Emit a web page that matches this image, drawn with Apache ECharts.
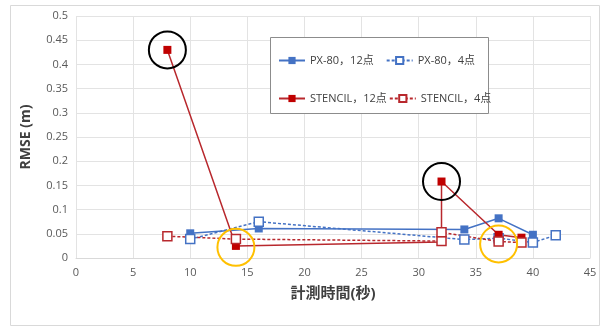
<!DOCTYPE html>
<html>
<head>
<meta charset="utf-8">
<script src="https://cdn.jsdelivr.net/npm/echarts@6/dist/echarts.min.js"></script>
<style>
  html, body { margin: 0; padding: 0; background: #fff; }
  #chart { width: 609px; height: 329px; }
</style>
</head>
<body>
<div id="chart"></div>
<script>
// 数据
let xTicks = [0, 5, 10, 15, 20, 25, 30, 35, 40, 45]
let seriesNames = ['PX-80，12点', 'PX-80，4点', 'STENCIL，12点', 'STENCIL，4点']
let px80_12 = [[10, 0.051], [16, 0.061], [34, 0.059], [37, 0.082], [40, 0.048]]
let px80_4 = [[10, 0.039], [16, 0.075], [34, 0.038], [37, 0.041], [40, 0.032], [42, 0.047]]
let stencil_12 = [[8, 0.43], [14, 0.025], [32, 0.033], [32, 0.158], [37, 0.048], [39, 0.042]]
let stencil_4 = [[8, 0.045], [14, 0.039], [32, 0.035], [32, 0.053], [37, 0.034], [39, 0.032]]
// 注记圆圈
let blackMarks = [[8, 0.43], [32, 0.158]]
let orangeMarks = [[14, 0.022], [37, 0.029]]

let blue = '#4472C4'
let red = '#C00000'
let font = '"Open Sans", "Noto Sans CJK JP", sans-serif'

function ring(list, color) {
    return list.map(function (c) {
        return {
            coord: c,
            symbol: 'circle',
            symbolSize: 37,
            itemStyle: { color: 'rgba(0,0,0,0)', borderColor: color, borderWidth: 2 },
            label: { show: false }
        }
    })
}

let myChart = echarts.init(document.getElementById('chart'))
let option = {
    animation: false,
    textStyle: { fontFamily: font },
    grid: { left: 76, right: 19, top: 16, bottom: 71 },
    graphic: [
        { type: 'rect', shape: { x: 10.5, y: 5.5, width: 589, height: 320 }, style: { fill: 'none', stroke: '#D9D9D9', lineWidth: 1 }, silent: true },
        { type: 'rect', shape: { x: 270.5, y: 37.5, width: 218, height: 76 }, style: { fill: '#fff', stroke: '#8C8C8C', lineWidth: 1 }, silent: true, z: 5 }
    ],
    legend: [
        {
            data: seriesNames.slice(0, 2), left: 273, top: 50, itemWidth: 26, itemHeight: 9, itemGap: 12,
            textStyle: { fontSize: 11, color: '#404040', fontFamily: font }, z: 10
        },
        {
            data: seriesNames.slice(2, 4), left: 273, top: 88, itemWidth: 26, itemHeight: 9, itemGap: 2,
            textStyle: { fontSize: 11, color: '#404040', fontFamily: font }, z: 10
        }
    ],
    xAxis: {
        type: 'value', min: xTicks[0], max: xTicks[xTicks.length - 1], interval: 5,
        name: '計測時間(秒)', nameLocation: 'middle', nameGap: 28,
        nameTextStyle: { fontSize: 15, fontWeight: 'bold', color: '#404040', fontFamily: font },
        axisLine: { lineStyle: { color: '#D9D9D9' } },
        axisTick: { show: false },
        axisLabel: { fontSize: 11, color: '#595959', margin: 9 },
        splitLine: { show: true, lineStyle: { color: '#E3E3E3' } }
    },
    yAxis: {
        type: 'value', min: 0, max: 0.5, interval: 0.05,
        name: 'RMSE (m)', nameLocation: 'middle', nameGap: 43,
        nameTextStyle: { fontSize: 14, fontWeight: 'bold', color: '#404040', fontFamily: font },
        axisLine: { show: false },
        axisTick: { show: false },
        axisLabel: { fontSize: 11, color: '#595959', margin: 8 },
        splitLine: { show: true, lineStyle: { color: '#E3E3E3' } }
    },
    series: [
        {
            name: seriesNames[0], type: 'line', data: px80_12,
            symbol: 'rect', symbolSize: 8,
            lineStyle: { color: blue, width: 1.5 },
            itemStyle: { color: blue }
        },
        {
            name: seriesNames[1], type: 'line', data: px80_4,
            symbol: 'rect', symbolSize: 9,
            lineStyle: { color: blue, width: 1.5, type: [3, 2] },
            itemStyle: { color: '#fff', borderColor: blue, borderWidth: 1.5 }
        },
        {
            name: seriesNames[2], type: 'line', data: stencil_12,
            symbol: 'rect', symbolSize: 8,
            lineStyle: { color: '#B8282D', width: 1.5 },
            itemStyle: { color: red },
            markPoint: { data: ring(blackMarks, '#000') }
        },
        {
            name: seriesNames[3], type: 'line', data: stencil_4,
            symbol: 'rect', symbolSize: 9,
            lineStyle: { color: '#B8282D', width: 1.5, type: [3, 2] },
            itemStyle: { color: '#fff', borderColor: '#B8282D', borderWidth: 1.5 },
            markPoint: { data: ring(orangeMarks, '#FFC000') }
        }
    ]
}
myChart.setOption(option)
</script>
</body>
</html>
